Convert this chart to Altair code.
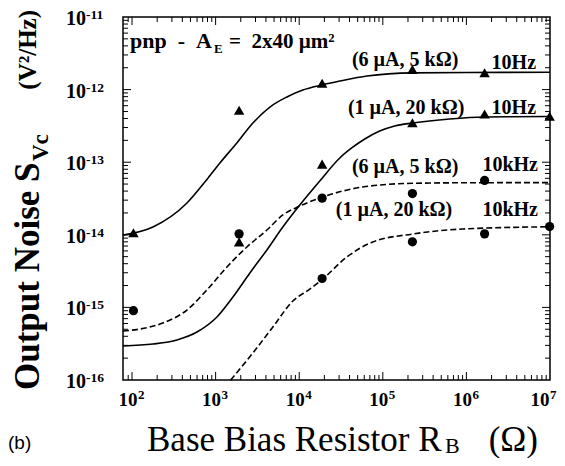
import altair as alt
import pandas as pd

# ---------------- data ----------------
# model curves (solid: 10 Hz, dashed: 10 kHz)
c1_x = [78, 178, 454, 787, 1125, 1795, 2793, 4457, 7112, 1.104e4, 1.862e4, 3.06e4, 6.46e4, 2.28e5, 1.0e6, 1.0e7]
c1_y = [9.9e-15, 1.28e-14, 2.74e-14, 5.78e-14, 9.75e-14, 1.84e-13, 3.46e-13, 5.75e-13, 7.91e-13,
        9.86e-13, 1.156e-12, 1.31e-12, 1.54e-12, 1.70e-12, 1.72e-12, 1.73e-12]
c2_x = [78, 178, 345, 598, 1038, 1611, 2570, 4102, 6368, 1.016e4, 1.762e4, 3.055e4, 4.246e4, 6.08e4,
        9.18e4, 1.387e5, 2.275e5, 6.3e5, 1.65e6, 1.0e7]
c2_y = [2.94e-16, 3.13e-16, 3.56e-16, 4.58e-16, 7.38e-16, 1.39e-15, 2.98e-15, 6.18e-15, 1.28e-14, 2.57e-14,
        5.51e-14, 1.143e-13, 1.57e-13, 2.09e-13, 2.69e-13, 3.16e-13, 3.47e-13, 3.94e-13, 4.2e-13, 4.26e-13]
c3_x = [78, 125, 234, 454, 787, 1365, 2366, 4102, 6368, 1.016e4, 1.914e4, 5.75e4, 2.28e5, 1.44e6, 1.0e7]
c3_y = [4.73e-16, 5.04e-16, 6.1e-16, 9.2e-16, 1.74e-15, 3.6e-15, 6.79e-15, 1.164e-14, 1.875e-14, 2.49e-14,
        3.32e-14, 4.55e-14, 5.12e-14, 5.22e-14, 5.23e-14]
c4_x = [1514, 2793, 4842, 8395, 1.34e4, 1.914e4, 3.707e4, 7.57e4, 2.275e5, 9.02e5, 1.0e7]
c4_y = [1.0e-16, 2.36e-16, 5.37e-16, 1.225e-15, 1.79e-15, 2.46e-15, 4.94e-15, 7.96e-15, 1.026e-14,
        1.2e-14, 1.29e-14]

# measured points
tri_a_x = [104, 1910, 1.88e4, 2.26e5, 1.65e6]
tri_a_y = [1.07e-14, 5.2e-13, 1.22e-12, 1.9e-12, 1.71e-12]
tri_b_x = [1910, 1.88e4, 2.26e5, 1.65e6, 9.9e6]
tri_b_y = [8.0e-15, 9.4e-14, 3.5e-13, 4.6e-13, 4.3e-13]
cir_c_x = [104, 1910, 1.88e4, 2.26e5, 1.65e6]
cir_c_y = [9.0e-16, 1.03e-14, 3.2e-14, 3.7e-14, 5.6e-14]
cir_d_x = [1.88e4, 2.26e5, 1.65e6, 9.9e6]
cir_d_y = [2.5e-15, 8.0e-15, 1.03e-14, 1.3e-14]

# curve annotations: bias labels (centred) and frequency labels (right-aligned)
bias_text = ["(6 \u00b5A, 5 k\u03a9)", "(1 \u00b5A, 20 k\u03a9)", "(6 \u00b5A, 5 k\u03a9)", "(1 \u00b5A, 20 k\u03a9)"]
bias_x = [1.85e5, 1.90e5, 1.85e5, 1.36e5]
bias_y = [2.56e-12, 5.58e-13, 8.59e-14, 2.20e-14]
freq_text = ["10Hz", "10Hz", "10kHz", "10kHz"]
freq_x = [6.81e6, 6.81e6, 7.18e6, 7.18e6]
freq_y = [2.32e-12, 5.58e-13, 9.14e-14, 2.20e-14]

# ticks and tick labels
x_decades = [1e2, 1e3, 1e4, 1e5, 1e6, 1e7]
x_exps = ["2", "3", "4", "5", "6", "7"]
y_decades = [1e-16, 1e-15, 1e-14, 1e-13, 1e-12, 1e-11]
y_exps = ["-16", "-15", "-14", "-13", "-12", "-11"]
mults = [2, 3, 4, 5, 6, 7, 8, 9]
x_minor = [90] + [m * d for d in x_decades[:-1] for m in mults]
y_minor = [m * d for d in y_decades[:-1] for m in mults]

# ---------------- chart ----------------
W, H = 427, 363
SERIF = "Liberation Serif"
NB = "\u00a0"
xs = alt.Scale(type="log", domain=[78, 1e7], nice=False)
ys = alt.Scale(type="log", domain=[1e-16, 1e-11], nice=False)


def X(f="x"):
    return alt.X(f"{f}:Q", scale=xs, axis=None)


def Y(f="y"):
    return alt.Y(f"{f}:Q", scale=ys, axis=None)


def curve(xv, yv, dashed):
    kw = dict(color="black", strokeWidth=1.6, interpolate="monotone")
    if dashed:
        kw["strokeDash"] = [6, 3]
    return alt.Chart(pd.DataFrame({"x": xv, "y": yv})).mark_line(**kw).encode(x=X(), y=Y())


def pts(xv, yv, shape, size):
    return alt.Chart(pd.DataFrame({"x": xv, "y": yv})).mark_point(
        shape=shape, filled=True, color="black", opacity=1, size=size, strokeWidth=0
    ).encode(x=X(), y=Y())


one = pd.DataFrame({"a": [0]})


def label(text, px, py, **kw):
    base = dict(font=SERIF, color="black")
    base.update(kw)
    return alt.Chart(one).mark_text(text=text, **base).encode(x=alt.value(px), y=alt.value(py))


layers = []
# inside ticks on all four sides
for vals, L in [(x_decades[:-1], 8), (x_minor, 5)]:
    df = pd.DataFrame({"x": vals})
    layers.append(alt.Chart(df).mark_rule(color="black", strokeWidth=1).encode(
        x=X(), y=alt.value(H), y2=alt.value(H - L)))
    layers.append(alt.Chart(df).mark_rule(color="black", strokeWidth=1).encode(
        x=X(), y=alt.value(0), y2=alt.value(L)))
for vals, L in [(y_decades[1:-1], 8), (y_minor, 5)]:
    df = pd.DataFrame({"y": vals})
    layers.append(alt.Chart(df).mark_rule(color="black", strokeWidth=1).encode(
        y=Y(), x=alt.value(0), x2=alt.value(L)))
    layers.append(alt.Chart(df).mark_rule(color="black", strokeWidth=1).encode(
        y=Y(), x=alt.value(W), x2=alt.value(W - L)))

# curves and points
layers += [curve(c1_x, c1_y, False), curve(c2_x, c2_y, False),
           curve(c3_x, c3_y, True), curve(c4_x, c4_y, True)]
layers += [pts(tri_a_x, tri_a_y, "triangle-up", 110), pts(tri_b_x, tri_b_y, "triangle-up", 110),
           pts(cir_c_x, cir_c_y, "circle", 85), pts(cir_d_x, cir_d_y, "circle", 85)]

# curve annotations
bdf = pd.DataFrame({"x": bias_x, "y": bias_y, "t": bias_text})
layers.append(alt.Chart(bdf).mark_text(font=SERIF, fontSize=20, fontWeight="bold", color="black",
                                       align="center", baseline="middle").encode(x=X(), y=Y(), text="t:N"))
fdf = pd.DataFrame({"x": freq_x, "y": freq_y, "t": freq_text})
layers.append(alt.Chart(fdf).mark_text(font=SERIF, fontSize=20, fontWeight="bold", color="black",
                                       align="right", baseline="middle").encode(x=X(), y=Y(), text="t:N"))

# tick labels (the last x label is nudged left so it stays on the page)
xl = pd.DataFrame({"x": x_decades, "b": ["10"] * 6, "e": x_exps})
xl_in, xl_last = xl.iloc[:-1], xl.iloc[-1:]
for d, shift in [(xl_in, 0), (xl_last, -6)]:
    layers.append(alt.Chart(d).mark_text(font=SERIF, fontSize=19, fontWeight="bold", color="black",
                                         align="center", baseline="middle", dx=-4 + shift).encode(
        x=X(), y=alt.value(H + 20), text="b:N"))
    layers.append(alt.Chart(d).mark_text(font=SERIF, fontSize=13, fontWeight="bold", color="black",
                                         align="left", baseline="middle", dx=6 + shift).encode(
        x=X(), y=alt.value(H + 15), text="e:N"))
yl = pd.DataFrame({"y": y_decades, "b": ["10"] * 6, "e": y_exps})
layers.append(alt.Chart(yl).mark_text(font=SERIF, fontSize=20, fontWeight="bold", color="black",
                                      align="right", baseline="middle", dx=-37, dy=2).encode(
    y=Y(), x=alt.value(0), text="b:N"))
layers.append(alt.Chart(yl).mark_text(font=SERIF, fontSize=13.5, fontWeight="bold", color="black",
                                      align="left", baseline="middle", dx=-37, dy=-2).encode(
    y=Y(), x=alt.value(0), text="e:N"))

# inner title
layers.append(label(f"pnp{NB}{NB}-{NB}{NB}A", 7, 31, fontSize=22, fontWeight="bold", align="left",
                    baseline="alphabetic"))
layers.append(label("E", 91, 36, fontSize=13, fontWeight="bold", align="left", baseline="alphabetic"))
layers.append(label(f"={NB}{NB}2x40{NB}\u00b5m\u00b2", 106, 31, fontSize=21, fontWeight="bold",
                    align="left", baseline="alphabetic"))

# y axis title (rotated)
layers.append(label("Output Noise S", -95, 373, fontSize=35, fontWeight="bold", align="left",
                    baseline="middle", angle=270))
layers.append(label("Vc", -82, 144, fontSize=23, fontWeight="bold", align="left",
                    baseline="middle", angle=270))
layers.append(label("(V\u00b2/Hz)", -95, -7, fontSize=25, fontWeight="bold", align="right",
                    baseline="middle", angle=270))

# x axis title
layers.append(label("Base Bias Resistor R", 24, 434, fontSize=35, align="left", baseline="alphabetic"))
layers.append(label("B", 322, 436, fontSize=22, align="left", baseline="alphabetic"))
layers.append(label("(\u03a9)", 415, 434, fontSize=35, align="right", baseline="alphabetic"))

# panel letter
layers.append(label("(b)", -115, 426, font="Liberation Sans", fontSize=19, align="left",
                    baseline="middle"))

chart = alt.layer(*layers).properties(
    width=W, height=H,
    autosize=alt.AutoSizeParams(type="none"),
    padding={"left": 115, "top": 9, "right": 7, "bottom": 78},
).configure_view(stroke="black", strokeWidth=1.5)

chart.save("out.html", embed_options={"renderer": "svg", "actions": False})
